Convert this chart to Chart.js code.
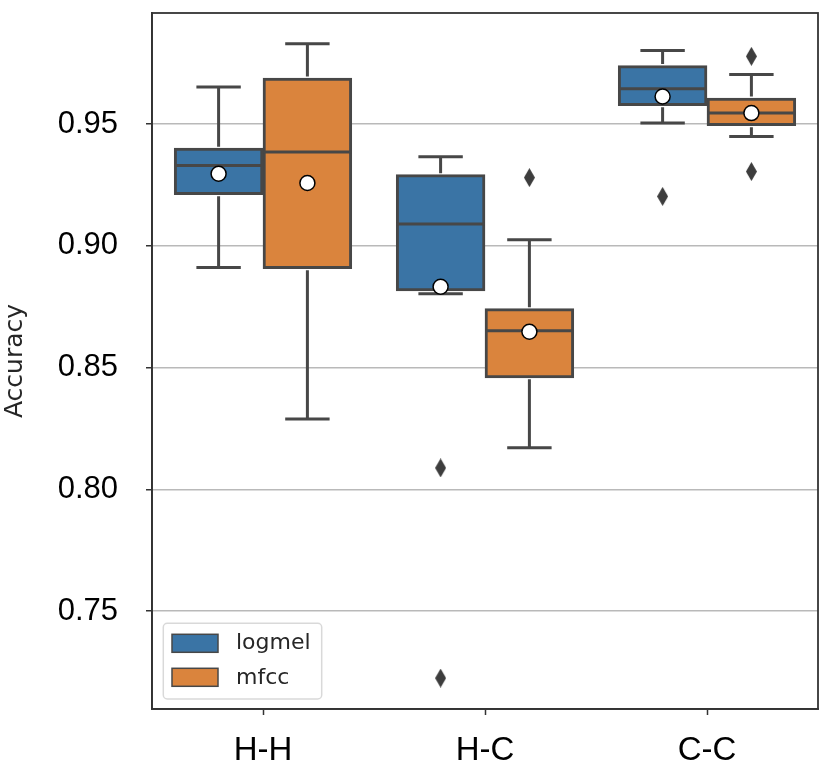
<!DOCTYPE html>
<html><head><meta charset="utf-8">
<script src="https://cdn.jsdelivr.net/npm/chart.js@4.4.0/dist/chart.umd.min.js"></script>
<style>html,body{margin:0;padding:0;background:#fff;}</style>
</head><body>
<canvas id="c" width="836" height="778" style="width:836px;height:778px;display:block"></canvas>
<script>
// ---- data ----
const categories = ['H-H', 'H-C', 'C-C'];
const seriesNames = ['logmel', 'mfcc'];
const seriesColors = ['#3a74a5', '#da843d'];

const logmelWhiskerLow  = [0.8911, 0.8803, 0.9504];
const logmelQ1          = [0.9210, 0.8815, 0.9575];
const logmelMedian      = [0.9330, 0.9090, 0.9645];
const logmelQ3          = [0.9401, 0.9292, 0.9740];
const logmelWhiskerHigh = [0.9652, 0.9366, 0.9802];
const logmelMean        = [0.9296, 0.8832, 0.9613];
const logmelOutliers    = [[], [0.8088, 0.7225], [0.9203]];

const mfccWhiskerLow  = [0.8289, 0.8171, 0.9449];
const mfccQ1          = [0.8906, 0.8458, 0.9493];
const mfccMedian      = [0.9385, 0.8651, 0.9545];
const mfccQ3          = [0.9689, 0.8742, 0.9607];
const mfccWhiskerHigh = [0.9830, 0.9025, 0.9703];
const mfccMean        = [0.9258, 0.8647, 0.9545];
const mfccOutliers    = [[], [0.9280], [0.9778, 0.9305]];

const yTickValues = [0.75, 0.80, 0.85, 0.90, 0.95];
const yMin = 0.7098, yMax = 0.9956;
const yTitle = 'Accuracy';

// ---- styling ----
const LINE = '#474747';
const HUE_OFFSET = 0.2;   // seaborn dodge: each hue box is 0.4 of a category wide
const series = [
  {name: seriesNames[0], color: seriesColors[0], lo: logmelWhiskerLow, q1: logmelQ1, med: logmelMedian, q3: logmelQ3, hi: logmelWhiskerHigh, mean: logmelMean, out: logmelOutliers, off: -HUE_OFFSET},
  {name: seriesNames[1], color: seriesColors[1], lo: mfccWhiskerLow, q1: mfccQ1, med: mfccMedian, q3: mfccQ3, hi: mfccWhiskerHigh, mean: mfccMean, out: mfccOutliers, off: HUE_OFFSET}
];

function makeDiamond(w, h, color) {
  const c = document.createElement('canvas');
  c.width = w; c.height = h;
  const g = c.getContext('2d');
  g.fillStyle = color;
  g.beginPath();
  g.moveTo(w / 2, 0); g.lineTo(w, h / 2); g.lineTo(w / 2, h); g.lineTo(0, h / 2);
  g.closePath(); g.fill();
  return c;
}
const diamond = makeDiamond(11, 19, '#3d3d3d');

const datasets = [];
series.forEach((s, si) => {
  datasets.push({
    type: 'bar', label: s.name, boxIndex: si, grouped: false,
    data: s.q1.map((q, i) => ({x: i + s.off, y: [q, s.q3[i]]})),
    backgroundColor: s.color, borderColor: LINE, borderWidth: 3, borderSkipped: false,
    categoryPercentage: 1.0, barPercentage: 1.0, order: 3
  });
});
series.forEach((s) => {
  const pts = [];
  s.out.forEach((arr, i) => arr.forEach(v => pts.push({x: i + s.off, y: v})));
  datasets.push({
    type: 'scatter', label: s.name + ' outliers', data: pts,
    pointStyle: diamond, pointRadius: 6, order: 2
  });
});
series.forEach((s) => {
  datasets.push({
    type: 'scatter', label: s.name + ' mean',
    data: s.mean.map((v, i) => ({x: i + s.off, y: v})),
    pointStyle: 'circle', pointRadius: 7.5, backgroundColor: '#ffffff',
    borderColor: '#000000', borderWidth: 1.5, order: 1
  });
});

const boxLines = {
  id: 'boxLines',
  afterDatasetDraw(chart, args) {
    const ds = chart.data.datasets[args.index];
    if (ds.type !== 'bar') return;
    const s = series[ds.boxIndex];
    const ctx = chart.ctx, y = chart.scales.y;
    ctx.save();
    ctx.strokeStyle = LINE; ctx.lineWidth = 3; ctx.lineCap = 'butt';
    args.meta.data.forEach((bar, i) => {
      const cx = bar.x, hw = bar.width / 2, cap = bar.width / 4;
      const pHi = y.getPixelForValue(s.hi[i]), pQ3 = y.getPixelForValue(s.q3[i]);
      const pLo = y.getPixelForValue(s.lo[i]), pQ1 = y.getPixelForValue(s.q1[i]);
      const pMed = y.getPixelForValue(s.med[i]);
      ctx.beginPath();
      ctx.moveTo(cx, pQ3 - 1.5); ctx.lineTo(cx, pHi);
      ctx.moveTo(cx - cap, pHi); ctx.lineTo(cx + cap, pHi);
      ctx.moveTo(cx, pQ1 + 1.5); ctx.lineTo(cx, pLo);
      ctx.moveTo(cx - cap, pLo); ctx.lineTo(cx + cap, pLo);
      ctx.moveTo(cx - hw, pMed); ctx.lineTo(cx + hw, pMed);
      ctx.stroke();
    });
    ctx.restore();
  }
};

const frameAndLegend = {
  id: 'frameAndLegend',
  afterDraw(chart) {
    const ctx = chart.ctx, ca = chart.chartArea;
    ctx.save();
    ctx.strokeStyle = '#333333'; ctx.lineWidth = 1.8;
    ctx.strokeRect(ca.left, ca.top, ca.right - ca.left, ca.bottom - ca.top);
    // legend
    const x0 = ca.left + 11.3, w = 158.4, h = 75.7, y0 = ca.bottom - 10 - h;
    ctx.beginPath();
    ctx.roundRect(x0, y0, w, h, 4);
    ctx.fillStyle = 'rgba(255,255,255,0.85)'; ctx.fill();
    ctx.strokeStyle = '#d9d9d9'; ctx.lineWidth = 1.5; ctx.stroke();
    ctx.font = '22px "DejaVu Sans"'; ctx.textBaseline = 'middle'; ctx.textAlign = 'left';
    chart.data.datasets.filter(d => d.type === 'bar').forEach((d, i) => {
      const sy = y0 + 11 + i * 34;
      ctx.fillStyle = d.backgroundColor; ctx.fillRect(x0 + 8.7, sy, 46, 18);
      ctx.strokeStyle = LINE; ctx.lineWidth = 1.5; ctx.strokeRect(x0 + 8.7, sy, 46, 18);
      ctx.fillStyle = '#262626';
      ctx.fillText(d.label, x0 + 72.7, y0 + 20 + i * 35);
    });
    ctx.restore();
  }
};

new Chart(document.getElementById('c'), {
  type: 'bar',
  data: {datasets},
  options: {
    responsive: false, animation: false, devicePixelRatio: 1,
    layout: {padding: {left: 0, right: 18, top: 13, bottom: 0}},
    plugins: {legend: {display: false}, tooltip: {enabled: false}},
    scales: {
      x: {
        type: 'linear', min: -0.5, max: categories.length - 0.5, offset: false,
        afterBuildTicks(s) { s.ticks = categories.map((c, i) => ({value: i})); },
        grid: {display: true, offset: false, drawOnChartArea: false, tickLength: 6, tickColor: '#333', tickWidth: 1.5},
        border: {display: true, color: '#333', width: 1.8},
        ticks: {color: '#000', font: {family: '"Liberation Sans"', size: 33}, padding: 16,
                callback: v => categories[v]},
        afterFit(s) { s.height = 778 - 709; s.paddingLeft = 0; s.paddingRight = 0; s.paddingTop = 0; s.paddingBottom = 0; }
      },
      y: {
        type: 'linear', min: yMin, max: yMax, z: 1,
        afterBuildTicks(s) { s.ticks = yTickValues.map(v => ({value: v})); },
        grid: {color: '#b9b9b9', lineWidth: 1.5, tickLength: 6, tickColor: '#333', tickWidth: 1.5},
        border: {display: true, color: '#333', width: 1.8},
        ticks: {color: '#000', font: {family: '"Liberation Sans"', size: 31}, padding: 28,
                callback: v => Number(v).toFixed(2)},
        title: {display: true, text: yTitle, color: '#262626',
                font: {family: '"DejaVu Sans"', size: 25}, padding: {top: 0, bottom: 0}},
        afterFit(s) { s.width = 152; s.paddingLeft = 0; s.paddingRight = 0; s.paddingTop = 0; s.paddingBottom = 0; }
      }
    }
  },
  plugins: [boxLines, frameAndLegend]
});
</script>
</body></html>
